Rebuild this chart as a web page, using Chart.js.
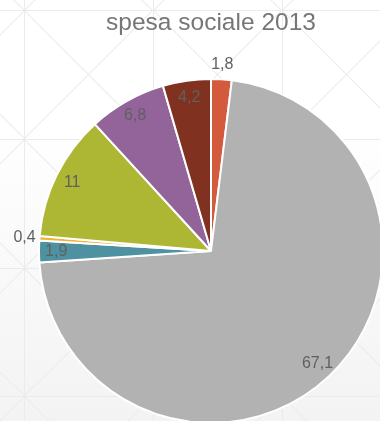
<!DOCTYPE html>
<html>
<head>
<meta charset="utf-8">
<script src="https://cdn.jsdelivr.net/npm/chart.js@4.4.1/dist/chart.umd.min.js"></script>
<style>
  html, body { margin: 0; padding: 0; width: 380px; height: 421px; overflow: hidden; }
  body {
    background-color: #fff;
    background-image:
      url("data:image/svg+xml;utf8,<svg xmlns='http://www.w3.org/2000/svg' width='128.67' height='128.67'><path d='M0 0.5H128.67M0.5 0V128.67M0 0L128.67 128.67M128.67 0L0 128.67' stroke='%23ebebeb' stroke-width='1' fill='none'/></svg>"),
      linear-gradient(to bottom, #ffffff 0%, #ffffff 30%, #f3f3f3 100%);
    background-size: 128.67px 128.67px, 100% 100%;
    background-position: 24.5px 10.5px, 0 0;
    background-repeat: repeat, no-repeat;
  }
  #wrap { position: absolute; left: 0; top: 0; width: 422px; height: 424px; }
</style>
</head>
<body>
<div id="wrap"><canvas id="c" width="422" height="424"></canvas></div>
<script>
const categories = ['Voce 1', 'Voce 2', 'Voce 3', 'Voce 4', 'Voce 5', 'Voce 6', 'Voce 7'];
const values = [1.8, 67.1, 1.9, 0.4, 11, 6.8, 4.2];
const sliceColors = ['#D45A3D', '#B2B2B2', '#4E92A2', '#F0B232', '#ADB733', '#92649A', '#80311F'];
const titleText = 'spesa sociale 2013';

const labelPlugin = {
  id: 'sliceLabels',
  afterDatasetsDraw(chart, args, opts) {
    const ctx = chart.ctx;
    const meta = chart.getDatasetMeta(0);
    ctx.save();
    ctx.font = opts.font;
    ctx.fillStyle = opts.color;
    ctx.textAlign = 'center';
    ctx.textBaseline = 'middle';
    meta.data.forEach((arc, i) => {
      const p = arc.getProps(['x', 'y', 'startAngle', 'endAngle', 'outerRadius'], true);
      const mid = (p.startAngle + p.endAngle) / 2;
      const outside = opts.outside.includes(i);
      const r = outside ? p.outerRadius + opts.outsideGap : p.outerRadius * opts.insideRatio;
      const x = p.x + Math.cos(mid) * r;
      const y = p.y + Math.sin(mid) * r;
      const txt = String(chart.data.datasets[0].data[i]).replace('.', ',');
      ctx.fillText(txt, x, y);
    });
    ctx.restore();
  }
};

new Chart(document.getElementById('c'), {
  type: 'pie',
  data: {
    labels: categories,
    datasets: [{
      data: values,
      backgroundColor: sliceColors,
      borderColor: '#ffffff',
      borderWidth: 2
    }]
  },
  options: {
    responsive: false,
    animation: false,
    layout: { padding: 0 },
    plugins: {
      legend: { display: false },
      tooltip: { enabled: false },
      title: {
        display: true,
        text: titleText,
        color: '#767676',
        font: { family: 'Liberation Sans, Arial, sans-serif', size: 24.5, weight: 'normal' },
        padding: { top: 9, bottom: 39.6 }
      },
      sliceLabels: {
        font: '16px "Liberation Sans", Arial, sans-serif',
        color: '#606060',
        outside: [0, 3],
        outsideGap: 15,
        insideRatio: 0.9
      }
    }
  },
  plugins: [labelPlugin]
});
</script>
</body>
</html>
